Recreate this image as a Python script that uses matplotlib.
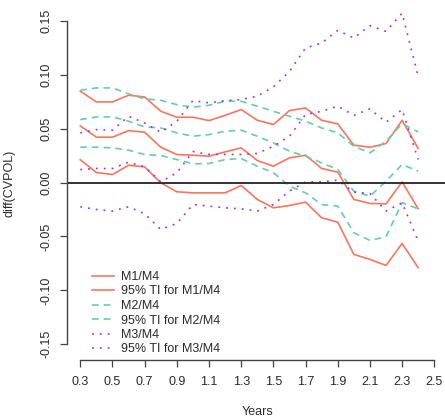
import numpy as np
import matplotlib
matplotlib.use("Agg")
import matplotlib.pyplot as plt

years = [0.3, 0.4, 0.5, 0.6, 0.7, 0.8, 0.9, 1.0, 1.1, 1.2, 1.3,
         1.4, 1.5, 1.6, 1.7, 1.8, 1.9, 2.0, 2.1, 2.2, 2.3, 2.4]

m1_mid = [0.0525, 0.042, 0.042, 0.0481, 0.0466, 0.0327, 0.0259, 0.0253, 0.0244, 0.0284, 0.0321,
          0.0204, 0.0151, 0.0228, 0.0253, 0.013, 0.0096, -0.0157, -0.0194, -0.0198, 0.0006, -0.0244]
m1_up = [0.0846, 0.0747, 0.0747, 0.0809, 0.0793, 0.066, 0.0605, 0.0605, 0.0574, 0.0623, 0.0676,
         0.0577, 0.0537, 0.0667, 0.0691, 0.0577, 0.0543, 0.0346, 0.0327, 0.0361, 0.0577, 0.0315]
m1_lo = [0.021, 0.0093, 0.0074, 0.016, 0.0145, -0.0003, -0.0086, -0.0096, -0.0096, -0.0096, -0.0028,
         -0.0157, -0.0235, -0.0213, -0.0182, -0.0327, -0.0367, -0.0667, -0.0713, -0.0769, -0.0565, -0.079]

m2_mid = [0.0583, 0.0608, 0.0608, 0.0568, 0.0515, 0.0506, 0.046, 0.0429, 0.0444, 0.0475, 0.0485,
          0.0429, 0.0367, 0.029, 0.0244, 0.0182, 0.012, -0.008, -0.0127, 0.0012, 0.0167, 0.0105]
m2_up = [0.0855, 0.0877, 0.0877, 0.0821, 0.0775, 0.0762, 0.0722, 0.0698, 0.0716, 0.0753, 0.0753,
         0.0707, 0.066, 0.0614, 0.0568, 0.0506, 0.046, 0.0336, 0.0275, 0.0383, 0.0546, 0.0469]
m2_lo = [0.0327, 0.0327, 0.0321, 0.03, 0.0259, 0.025, 0.0213, 0.0173, 0.0176, 0.0213, 0.0222,
         0.0151, 0.009, -0.0034, -0.0096, -0.0204, -0.0219, -0.0466, -0.0537, -0.0503, -0.0188, -0.0244]

m3_mid = [0.012, 0.013, 0.013, 0.0188, 0.0145, 0.0006, 0.009, 0.0287, 0.026, 0.026, 0.026,
          0.0269, 0.0336, 0.0429, 0.063, 0.066, 0.0707, 0.0623, 0.0682, 0.0559, 0.0676, 0.0213]
m3_up = [0.046, 0.049, 0.0485, 0.0614, 0.0552, 0.0466, 0.0568, 0.0759, 0.0738, 0.0759, 0.0769,
         0.08, 0.0886, 0.103, 0.1247, 0.1293, 0.141, 0.134, 0.1454, 0.1401, 0.157, 0.0985]
m3_lo = [-0.0225, -0.025, -0.0265, -0.0225, -0.029, -0.0435, -0.038, -0.0204, -0.0219, -0.0235, -0.0244,
         -0.0265, -0.0204, -0.008, 0.0006, 0.0006, 0.0022, -0.009, -0.0102, -0.0265, -0.0188, -0.0543]

xticks = [0.3, 0.5, 0.7, 0.9, 1.1, 1.3, 1.5, 1.7, 1.9, 2.1, 2.3, 2.5]
yticks = [-0.15, -0.10, -0.05, 0.00, 0.05, 0.10, 0.15]
labels = ["M1/M4", "95% TI for M1/M4", "M2/M4", "95% TI for M2/M4",
          "M3/M4", "95% TI for M3/M4"]

RED = "#FA7560"
GREEN = "#66CDAA"
PURPLE = "#9B30FF"
TXT = "#2a2a2a"

plt.rcParams['font.family'] = ['Liberation Sans', 'DejaVu Sans']
W, H = 445, 418
fig = plt.figure(figsize=(W / 100, H / 100), dpi=100)

left_px, right_px, bottom_px, top_px = 66.7, 445, 360, 0
ax = fig.add_axes([left_px / W, 1 - bottom_px / H, (right_px - left_px) / W, (bottom_px - top_px) / H])
ax.patch.set_alpha(0)

lw = 1.2
dash = (4, 3)
dot = (1.1, 3.6)

ax.plot(years, m1_mid, color=RED, lw=lw, label=labels[0])
ax.plot(years, m1_up, color=RED, lw=lw, label=labels[1])
ax.plot(years, m1_lo, color=RED, lw=lw)
ax.plot(years, m2_mid, color=GREEN, lw=lw, dashes=dash, label=labels[2])
ax.plot(years, m2_up, color=GREEN, lw=lw, dashes=dash, label=labels[3])
ax.plot(years, m2_lo, color=GREEN, lw=lw, dashes=dash)
ax.plot(years, m3_mid, color=PURPLE, lw=lw, dashes=dot, label=labels[4])
ax.plot(years, m3_up, color=PURPLE, lw=lw, dashes=dot, label=labels[5])
ax.plot(years, m3_lo, color=PURPLE, lw=lw, dashes=dot)

ax.axhline(0, color="#222222", lw=1.3)

# scales: 160.9 px per year unit, 1078.7 px per y unit
xpx = 160.9
ypx = 1078.7
ax.set_xlim(0.3 - (80.3 - left_px) / xpx, 0.3 + (right_px - 80.3) / xpx)
ax.set_ylim(-(bottom_px - 182.5) / ypx, (182.5 - top_px) / ypx)

for s in ['top', 'right']:
    ax.spines[s].set_visible(False)
ax.spines['left'].set_bounds(-0.15, 0.15)
ax.spines['bottom'].set_bounds(0.3, 2.5)
for s in ['left', 'bottom']:
    ax.spines[s].set_color("#444444")
    ax.spines[s].set_linewidth(1.0)

ax.set_xticks(xticks)
ax.set_xticklabels([f"{v:.1f}" for v in xticks])
ax.set_yticks(yticks)
ax.set_yticklabels([f"{v:.2f}" for v in yticks], rotation=90, va='center')
ax.tick_params(axis='both', direction='out', length=5, width=0.9, color="#444444",
               labelsize=9, labelcolor=TXT)
ax.tick_params(axis='x', pad=6.5)
ax.tick_params(axis='y', pad=5.3)

fig.text(258 / W, 1 - 412 / H, "Years", ha='center', va='center', fontsize=9, color=TXT)
fig.text(10 / W, 1 - 183 / H, "diff(CVPOL)", ha='center', va='center', rotation=90,
         fontsize=9, color=TXT)

leg = ax.legend(loc='upper left', bbox_to_anchor=(92 / W, 1 - 271 / H),
                bbox_transform=fig.transFigure, frameon=False, fontsize=9,
                handlelength=1.76, handletextpad=0.56, labelspacing=0.2,
                borderpad=0, borderaxespad=0)
for t in leg.get_texts():
    t.set_color(TXT)

fig.savefig("out.png", dpi=100)
